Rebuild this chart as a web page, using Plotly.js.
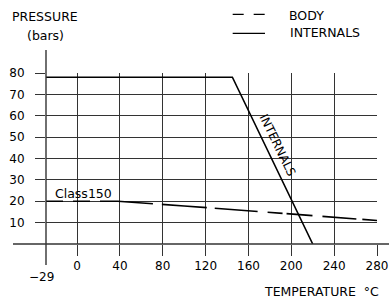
<!DOCTYPE html>
<html>
<head>
<meta charset="utf-8">
<script src="https://cdn.plot.ly/plotly-3.0.1.min.js"></script>
<style>
html,body{margin:0;padding:0;background:#fff;}
#chart{width:389px;height:305px;}
</style>
</head>
<body>
<div id="chart"></div>
<script>
// Data
var bodyTemps = [-29, 38, 100, 150, 200, 250, 280];
var bodyPressure = [20, 20, 17.8, 15.9, 14.0, 12.4, 11.0];
var internalsTemps = [-29, 145, 220];
var internalsPressure = [78, 78, 0];
var xTickVals = [0, 40, 80, 120, 160, 200, 240, 280];
var yTickVals = [10, 20, 30, 40, 50, 60, 70, 80];
var seriesNames = ['BODY', 'INTERNALS'];

var FONT = 'DejaVu Sans, Liberation Sans, sans-serif';

var traces = [
  {
    x: bodyTemps, y: bodyPressure, name: seriesNames[0],
    mode: 'lines', type: 'scatter',
    line: {color: '#000', width: 1.6,
      dash: '17px,10px,17px,10px,53px,9px,45px,8px,43px,10px,15px,4px,26px,10px,34px,6px,20px'},
    hoverinfo: 'skip', showlegend: false
  },
  {
    x: internalsTemps, y: internalsPressure, name: seriesNames[1],
    mode: 'lines', type: 'scatter',
    line: {color: '#000', width: 1.6},
    hoverinfo: 'skip', showlegend: false
  }
];

var layout = {
  width: 389, height: 305,
  margin: {l: 46, r: 12, t: 73, b: 61, pad: 0},
  paper_bgcolor: '#fff', plot_bgcolor: '#fff',
  font: {family: FONT, size: 12, color: '#000'},
  showlegend: false,
  xaxis: {
    range: [-29, 280], fixedrange: true,
    tickmode: 'array', tickvals: xTickVals,
    showgrid: true, gridcolor: '#333', gridwidth: 1,
    zeroline: false, showline: false,
    ticks: 'outside', ticklen: 11, tickwidth: 1, tickcolor: '#333',
    tickfont: {family: FONT, size: 12, color: '#000'}
  },
  yaxis: {
    range: [0, 80], fixedrange: true,
    tickmode: 'array', tickvals: yTickVals,
    showgrid: true, gridcolor: '#333', gridwidth: 1,
    zeroline: false, showline: false,
    ticks: 'outside', ticklen: 10, tickwidth: 1, tickcolor: '#333',
    ticklabelstandoff: 8,
    tickfont: {family: FONT, size: 12, color: '#000'}
  },
  shapes: [
    {type: 'line', xref: 'paper', yref: 'paper', x0: 0, x1: 0, y0: -0.1228, y1: 1.1345,
     line: {color: '#333', width: 1.4}},
    {type: 'line', xref: 'paper', yref: 'paper', x0: -0.0997, x1: 1.0363, y0: 0, y1: 0,
     line: {color: '#333', width: 1.4}},
    {type: 'line', xref: 'paper', yref: 'paper', x0: 0.564, x1: 0.6616, y0: 1.343, y1: 1.343,
     line: {color: '#000', width: 1.3, dash: '11px,10px'}},
    {type: 'line', xref: 'paper', yref: 'paper', x0: 0.564, x1: 0.6616, y0: 1.232, y1: 1.232,
     line: {color: '#000', width: 1.3}}
  ],
  annotations: [
    {text: 'PRESSURE', xref: 'paper', yref: 'paper', x: -0.1088, y: 1.3304,
     xanchor: 'left', yanchor: 'middle', showarrow: false, font: {family: FONT, size: 12.5}},
    {text: '(bars)', xref: 'paper', yref: 'paper', x: -0.0634, y: 1.2164,
     xanchor: 'left', yanchor: 'middle', showarrow: false, font: {family: FONT, size: 12.5}},
    {text: seriesNames[0], xref: 'paper', yref: 'paper', x: 0.728, y: 1.339,
     xanchor: 'left', yanchor: 'middle', showarrow: false, font: {family: FONT, size: 12.5}},
    {text: seriesNames[1], xref: 'paper', yref: 'paper', x: 0.731, y: 1.234,
     xanchor: 'left', yanchor: 'middle', showarrow: false, font: {family: FONT, size: 12.5}},
    {text: '\u221229', xref: 'paper', yref: 'paper', x: -0.0151, y: -0.193,
     xanchor: 'center', yanchor: 'middle', showarrow: false, font: {family: FONT, size: 12}},
    {text: 'TEMPERATURE  \u00b0C', xref: 'paper', yref: 'paper', x: 0.6526, y: -0.2807,
     xanchor: 'left', yanchor: 'middle', showarrow: false, font: {family: FONT, size: 12.5}},
    {text: 'Class150', xref: 'x', yref: 'y', x: 6, y: 23.6,
     xanchor: 'center', yanchor: 'middle', showarrow: false, font: {family: FONT, size: 12.5}},
    {text: 'INTERNALS', xref: 'x', yref: 'y', x: 187, y: 46.3, textangle: 64,
     xanchor: 'center', yanchor: 'middle', showarrow: false, font: {family: FONT, size: 12}}
  ]
};

Plotly.newPlot('chart', traces, layout, {staticPlot: true, displayModeBar: false});
</script>
</body>
</html>
